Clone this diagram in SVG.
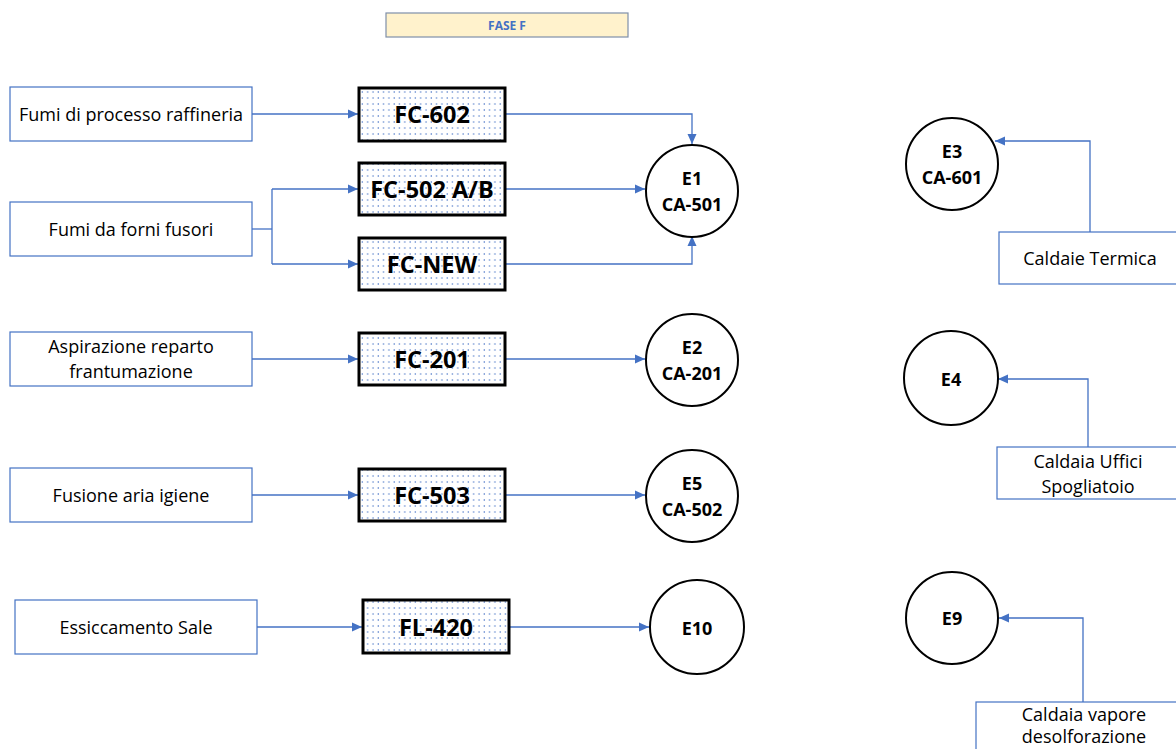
<svg xmlns="http://www.w3.org/2000/svg" width="1176" height="749" viewBox="0 0 1176 749">
<defs>
<pattern id="dots" width="5.3" height="6" patternUnits="userSpaceOnUse">
<circle cx="2" cy="2" r="0.75" fill="#4472C4"/>
</pattern>
<marker id="arr" viewBox="0 0 10 10" refX="10" refY="5" markerWidth="10" markerHeight="10" markerUnits="userSpaceOnUse" orient="auto">
<path d="M0,0.5 L10,5 L0,9.5 Z" fill="#4472C4"/>
</marker>
</defs>
<style>
.src{fill:#fff;stroke:#4472C4;stroke-width:1.2}
.flt{fill:url(#dots);stroke:#000;stroke-width:3}
.em{fill:#fff;stroke:#000;stroke-width:2}
.t{font-family:"Open Sans","Liberation Sans",sans-serif;font-size:18px;fill:#000;text-anchor:middle;dominant-baseline:central}
.fb{font-family:"Open Sans","Liberation Sans",sans-serif;font-size:23.5px;font-weight:bold;fill:#000;text-anchor:middle;dominant-baseline:central}
.cb{font-family:"Open Sans","Liberation Sans",sans-serif;font-size:18px;font-weight:bold;fill:#000;text-anchor:middle;dominant-baseline:central}
.c{fill:none;stroke:#4472C4;stroke-width:1.3}
</style>
<rect width="1176" height="749" fill="#fff"/>
<g id="title">
<rect x="386" y="13" width="242" height="24" fill="#FFF2CC" stroke="#7F8FA9" stroke-width="1.2"/>
<text x="507" y="25" font-family="'Open Sans','Liberation Sans',sans-serif" font-size="12" font-weight="bold" fill="#4472C4" text-anchor="middle" dominant-baseline="central">FASE F</text>
</g>
<g id="connectors">
<path class="c" d="M252,114 H358" marker-end="url(#arr)"/>
<path class="c" d="M505,114 H692 V144" marker-end="url(#arr)"/>
<path class="c" d="M252,229 H272"/>
<path class="c" d="M272,189 V264"/>
<path class="c" d="M272,189 H358" marker-end="url(#arr)"/>
<path class="c" d="M272,264 H358" marker-end="url(#arr)"/>
<path class="c" d="M505,189 H645" marker-end="url(#arr)"/>
<path class="c" d="M505,264 H692 V236" marker-end="url(#arr)"/>
<path class="c" d="M252,359 H358" marker-end="url(#arr)"/>
<path class="c" d="M505,359 H645" marker-end="url(#arr)"/>
<path class="c" d="M252,495 H358" marker-end="url(#arr)"/>
<path class="c" d="M505,495 H645" marker-end="url(#arr)"/>
<path class="c" d="M257,627 H362" marker-end="url(#arr)"/>
<path class="c" d="M509,627 H649" marker-end="url(#arr)"/>
<path class="c" d="M1090,232 V141 H995" marker-end="url(#arr)"/>
<path class="c" d="M1088,447 V379 H998" marker-end="url(#arr)"/>
<path class="c" d="M1083,702 V618 H999" marker-end="url(#arr)"/>
</g>
<g id="src1"><rect class="src" x="10" y="87" width="242" height="54"/><text class="t" x="131" y="114">Fumi di processo raffineria</text></g>
<g id="src2"><rect class="src" x="10" y="202" width="242" height="54"/><text class="t" x="131" y="229">Fumi da forni fusori</text></g>
<g id="src3"><rect class="src" x="10" y="332" width="242" height="54"/><text class="t" x="131" y="346">Aspirazione reparto</text><text class="t" x="131" y="371">frantumazione</text></g>
<g id="src4"><rect class="src" x="10" y="468" width="242" height="54"/><text class="t" x="131" y="495">Fusione aria igiene</text></g>
<g id="src5"><rect class="src" x="15" y="600" width="242" height="54"/><text class="t" x="136" y="627">Essiccamento Sale</text></g>
<g id="fc602"><rect class="flt" x="359" y="88" width="146" height="53"/><text class="fb" x="432" y="114">FC-602</text></g>
<g id="fc502"><rect class="flt" x="359" y="163" width="146" height="52"/><text class="fb" x="432" y="189">FC-502 A/B</text></g>
<g id="fcnew"><rect class="flt" x="359" y="238" width="146" height="52"/><text class="fb" x="432" y="264">FC-NEW</text></g>
<g id="fc201"><rect class="flt" x="359" y="333" width="146" height="52"/><text class="fb" x="432" y="359">FC-201</text></g>
<g id="fc503"><rect class="flt" x="359" y="469" width="146" height="52"/><text class="fb" x="432" y="495">FC-503</text></g>
<g id="fl420"><rect class="flt" x="363" y="600" width="146" height="53"/><text class="fb" x="436" y="627">FL-420</text></g>
<g id="e1"><circle class="em" cx="692" cy="191" r="46"/><text class="cb" x="692" y="178">E1</text><text class="cb" x="692" y="204">CA-501</text></g>
<g id="e2"><circle class="em" cx="692" cy="360" r="46"/><text class="cb" x="692" y="347">E2</text><text class="cb" x="692" y="373">CA-201</text></g>
<g id="e5"><circle class="em" cx="692" cy="496" r="46"/><text class="cb" x="692" y="483">E5</text><text class="cb" x="692" y="509">CA-502</text></g>
<g id="e10"><circle class="em" cx="697" cy="627" r="47"/><text class="cb" x="697" y="628">E10</text></g>
<g id="e3"><circle class="em" cx="952" cy="164" r="46"/><text class="cb" x="952" y="151">E3</text><text class="cb" x="952" y="177">CA-601</text></g>
<g id="e4"><circle class="em" cx="951" cy="378" r="47"/><text class="cb" x="951" y="379">E4</text></g>
<g id="e9"><circle class="em" cx="952" cy="618" r="46"/><text class="cb" x="952" y="618">E9</text></g>
<g id="src6"><rect class="src" x="999" y="232" width="182" height="52"/><text class="t" x="1090" y="258">Caldaie Termica</text></g>
<g id="src7"><rect class="src" x="997" y="447" width="184" height="52"/><text class="t" x="1088" y="461">Caldaia Uffici</text><text class="t" x="1088" y="486">Spogliatoio</text></g>
<g id="src8"><rect class="src" x="976" y="702" width="205" height="52"/><text class="t" x="1084" y="714">Caldaia vapore</text><text class="t" x="1084" y="736">desolforazione</text></g>
</svg>
